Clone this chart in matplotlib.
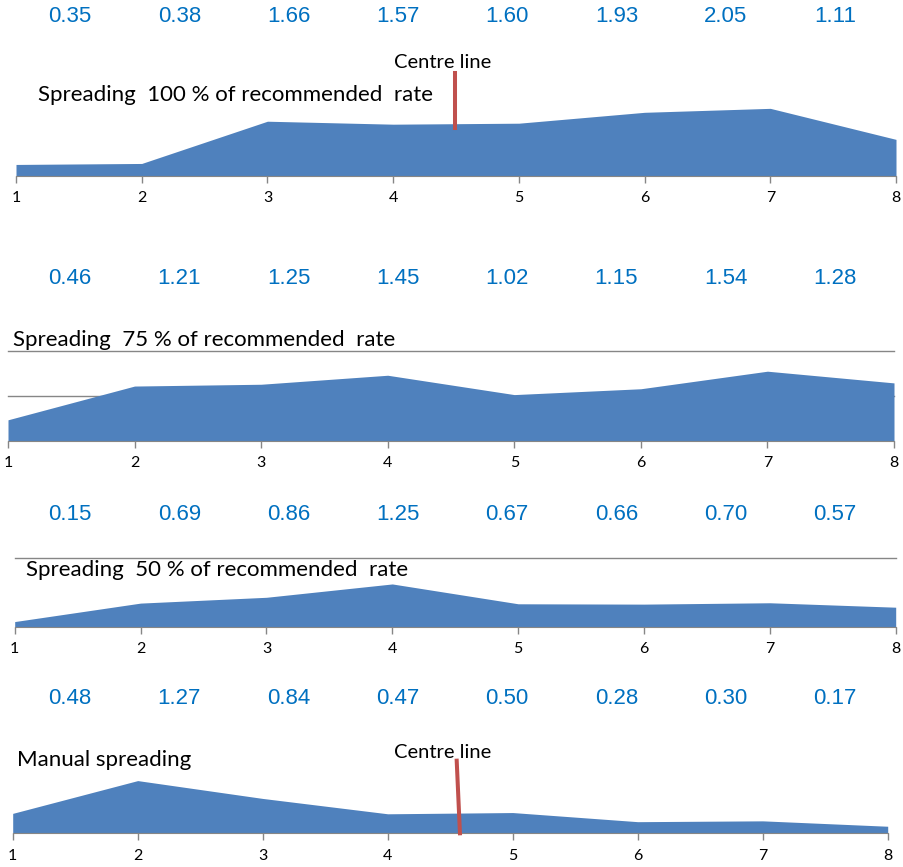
import numpy as np
from matplotlib import pyplot as plt

# positions across the field
positions = [1, 2, 3, 4, 5, 6, 7, 8]

rate_100 = [0.35, 0.38, 1.66, 1.57, 1.60, 1.93, 2.05, 1.11]
rate_75 = [0.46, 1.21, 1.25, 1.45, 1.02, 1.15, 1.54, 1.28]
rate_50 = [0.15, 0.69, 0.86, 1.25, 0.67, 0.66, 0.70, 0.57]
manual = [0.48, 1.27, 0.84, 0.47, 0.50, 0.28, 0.30, 0.17]

titles = ["Spreading  100 % of recommended  rate",
          "Spreading  75 % of recommended  rate",
          "Spreading  50 % of recommended  rate",
          "Manual spreading"]

W, H = 904, 867
BLUE = '#4F81BD'
RED = '#C0504D'
GREY = '#868686'
NUM = '#0070C0'

plt.rcParams['font.family'] = ['Lato', 'DejaVu Sans']

fig = plt.figure(figsize=(W / 100, H / 100), dpi=100)

# panel layout in pixels: x of first tick, x of last tick, baseline y, px per unit, ylim top, gridlines
panels = [
    (rate_100, 16, 896, 176, 33.0, 2.5, []),
    (rate_75, 8, 894, 440.5, 45.0, 2.0, [1, 2]),
    (rate_50, 14.7, 895.7, 626.7, 34.2, 2.0, [2]),
    (manual, 12.7, 887.7, 833.3, 41.5, 2.0, []),
]
num_rows_y = [17, 278, 514, 698]
title_xy = [(38, 95), (13, 340), (26, 570), (17, 760)]

axes = []
for k, (vals, x0, x1, base, ppu, top, grid) in enumerate(panels):
    h = top * ppu
    ax = fig.add_axes([x0 / W, 1 - base / H, (x1 - x0) / W, h / H])
    ax.fill_between(positions, 0, vals, color=BLUE, lw=0, zorder=2)
    ax.set_xlim(1, 8)
    ax.set_ylim(0, top)
    for g in grid:
        ax.axhline(g, color=GREY, lw=1, zorder=1, clip_on=False)
    for s in ['top', 'right', 'left']:
        ax.spines[s].set_visible(False)
    ax.spines['bottom'].set_color(GREY)
    ax.spines['bottom'].set_zorder(3)
    ax.set_yticks([])
    ax.set_xticks(positions)
    ax.tick_params(axis='x', colors=GREY, length=5, width=1, pad=6,
                   labelcolor='black', labelsize=11.5)
    ax.patch.set_alpha(0)
    axes.append(ax)

    # value row above each panel
    for xc, v in zip(np.linspace(70, 835, 8), vals):
        fig.text(xc / W, 1 - num_rows_y[k] / H, f"{v:.2f}", color=NUM,
                 fontsize=16, family='Liberation Sans', ha='center', va='center')

    tx, ty = title_xy[k]
    fig.text(tx / W, 1 - ty / H, titles[k], fontsize=16, ha='left', va='center')

# centre line markers
axes[0].plot([4.49, 4.49], [1.45, 3.12], color=RED, lw=2.9, clip_on=False, zorder=4)
fig.text(443 / W, 1 - 63 / H, "Centre line", fontsize=14.5, ha='center', va='center')
axes[3].plot([4.578, 4.552], [0, 1.75], color=RED, lw=2.9, clip_on=False, zorder=4)
fig.text(443 / W, 1 - 752 / H, "Centre line", fontsize=14.5, ha='center', va='center')

fig.savefig('out.png', dpi=100)
